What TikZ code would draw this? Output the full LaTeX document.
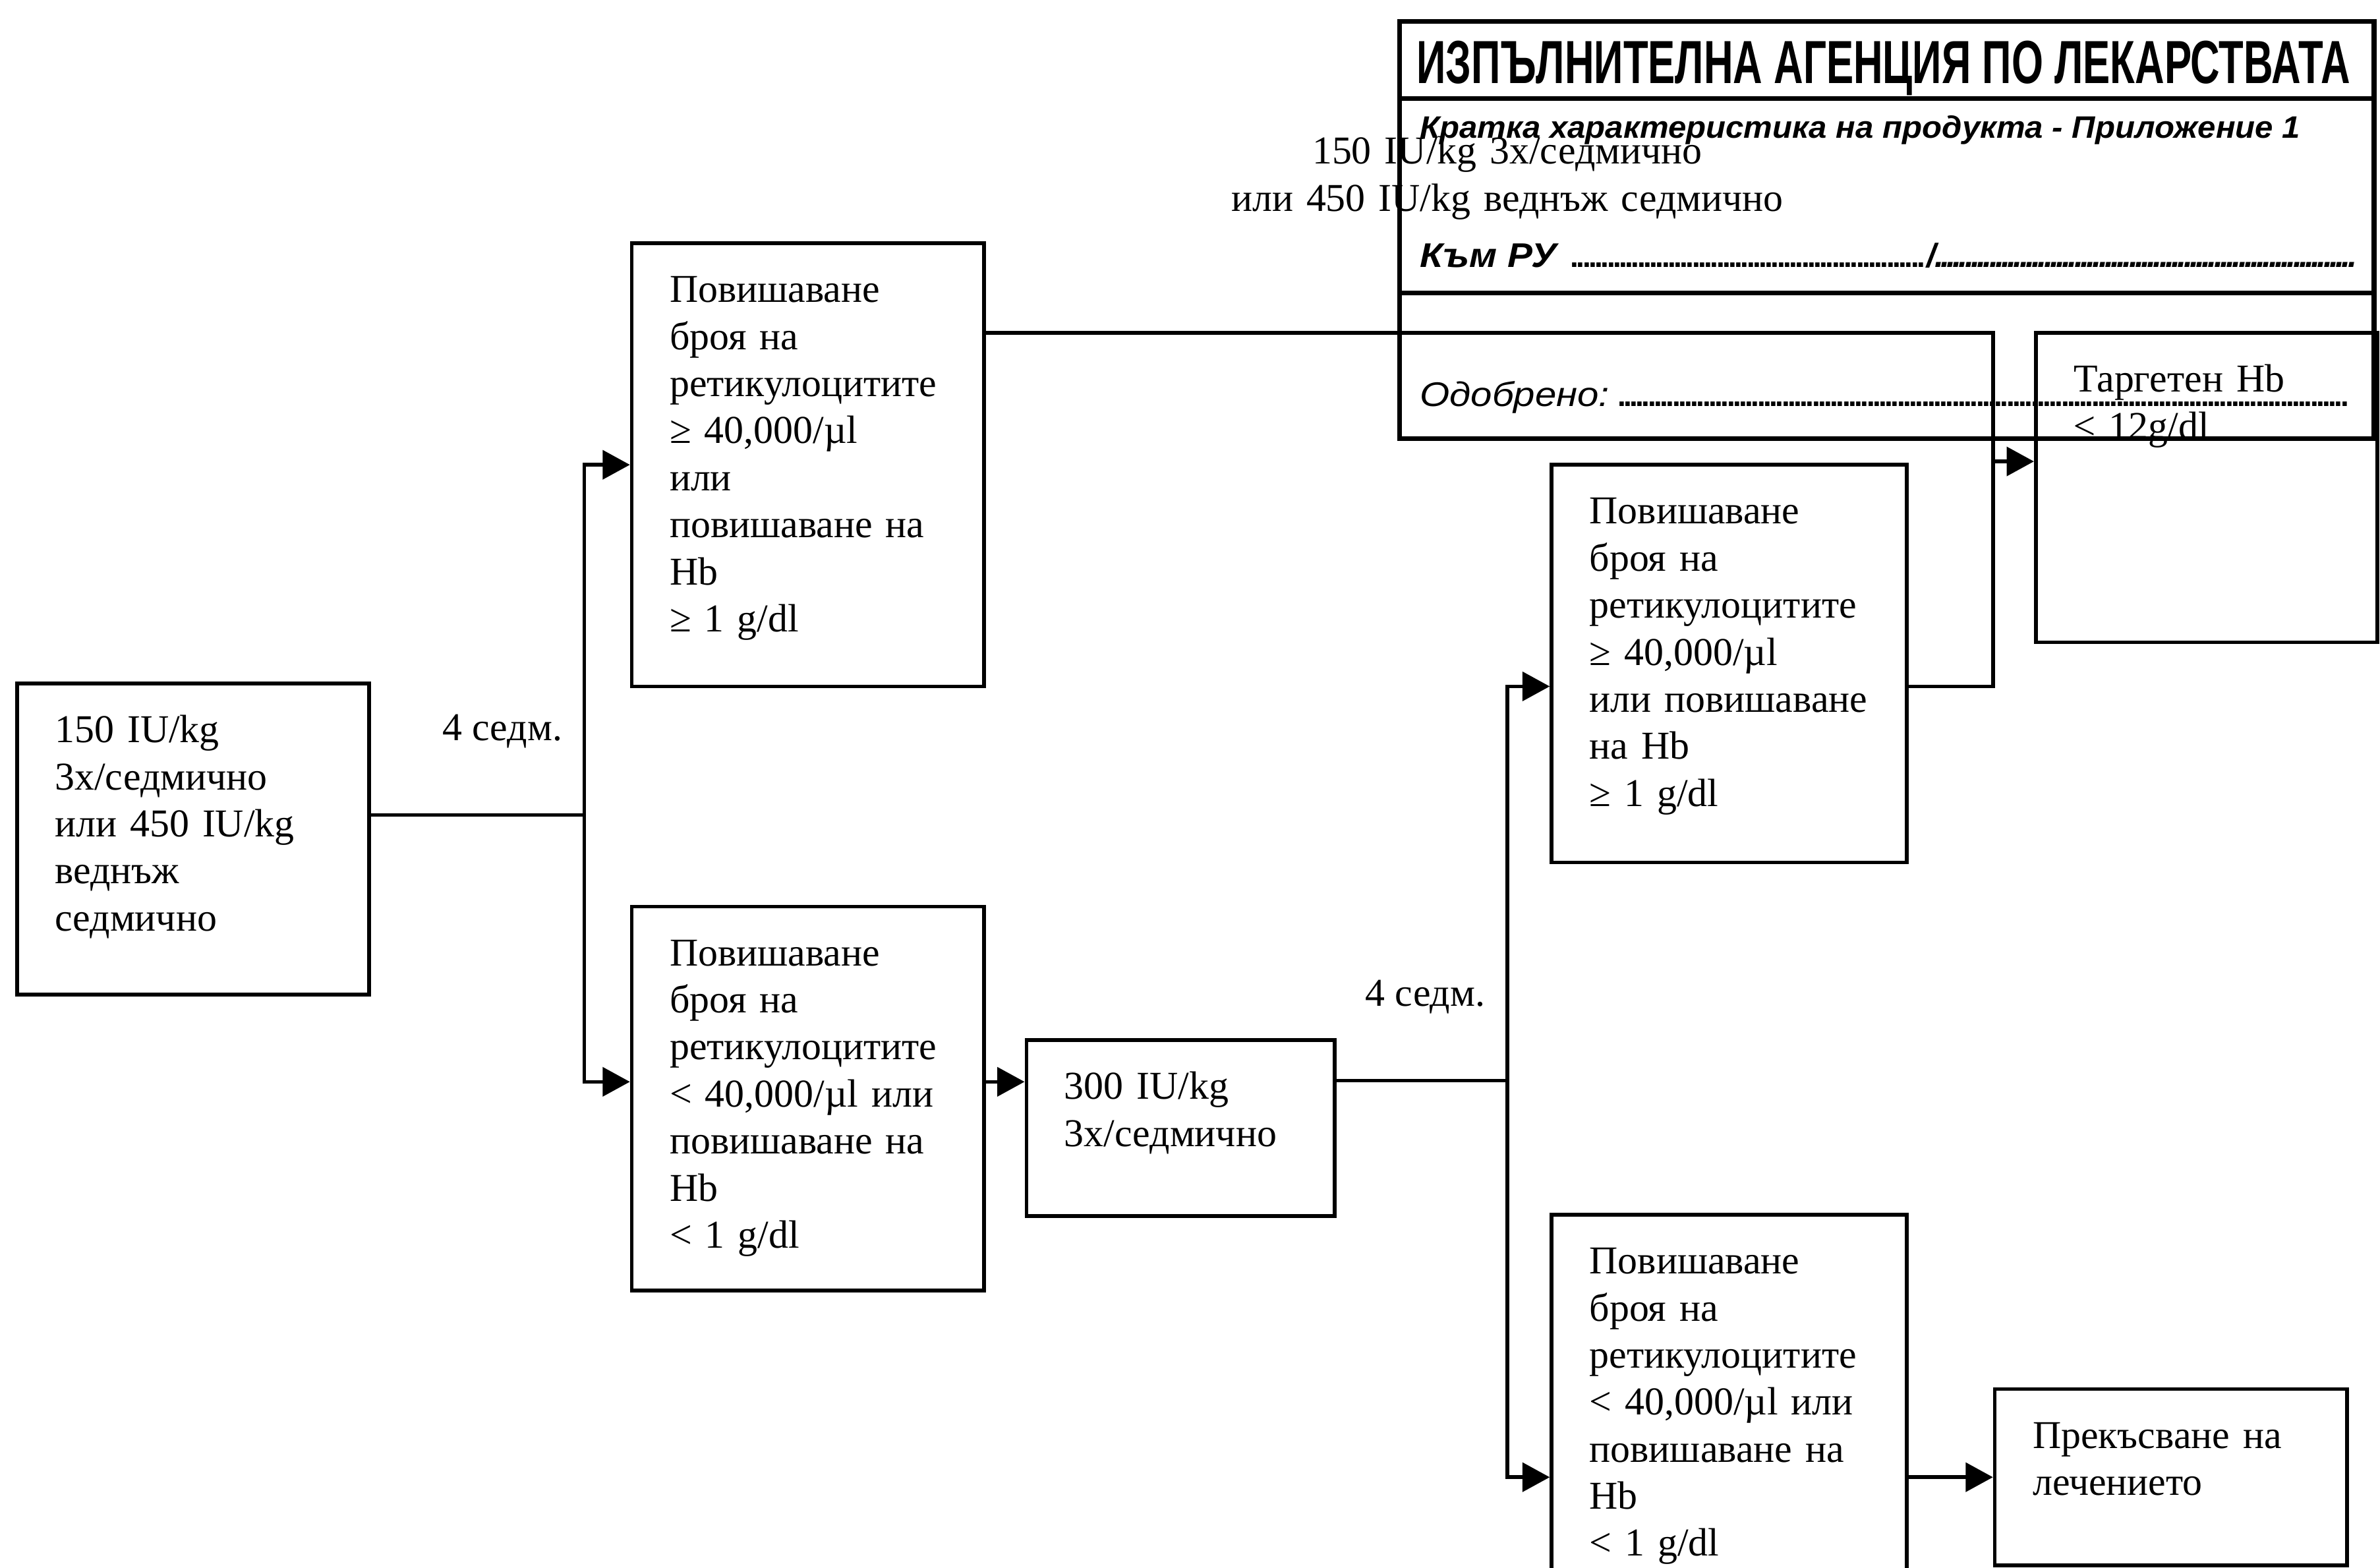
\documentclass[tikz,border=0pt]{standalone}
\usepackage{fontspec}
\usepackage{graphicx}
\setmainfont{Liberation Serif}
\newfontfamily\stampfont{Liberation Sans}
\usetikzlibrary{arrows.meta}

\newcommand{\dotrow}[1]{\makebox[#1]{\leaders\hbox to 2pt{\hss.\hss}\hfill}}

\tikzset{
  box/.style={draw, line width=1.2pt, anchor=north west, inner xsep=12.5pt, inner ysep=0pt,
    align=left, text height=19.5pt, font=\fontsize{13}{15.5}\selectfont},
  note/.style={inner sep=0pt, font=\fontsize{13}{15.5}\selectfont},
  link/.style={line width=1.2pt},
  arrowlink/.style={line width=1.2pt, -{Triangle[length=9pt,width=9.5pt]}},
  stampline/.style={line width=1.6pt},
  stamptext/.style={anchor=base west, inner sep=0pt, font=\stampfont},
}

\begin{document}
\begin{tikzpicture}[x=0.5pt,y=-0.5pt]
  \useasboundingbox (0,0) rectangle (1568,1033);

  \begin{scope}[every node/.style={box}]
    \node[text width=91pt, text depth=83pt] (start) at (10,449)
      {150 IU/kg\\3x/седмично\\или 450 IU/kg\\веднъж\\седмично};
    \node[text width=91pt, text depth=126.5pt] (upA) at (415,159)
      {Повишаване\\броя на\\ретикулоцитите\\≥ 40,000/µl\\или\\повишаване на\\Hb\\≥ 1 g/dl};
    \node[text width=91pt, text depth=107pt] (lowA) at (415,596)
      {Повишаване\\броя на\\ретикулоцитите\\< 40,000/µl или\\повишаване на\\Hb\\< 1 g/dl};
    \node[text width=76.5pt, text depth=38.5pt] (dose) at (675,684)
      {300 IU/kg\\3x/седмично};
    \node[text width=92pt, text depth=111.5pt] (upB) at (1021,305)
      {Повишаване\\броя на\\ретикулоцитите\\≥ 40,000/µl\\или повишаване\\на Hb\\≥ 1 g/dl};
    \node[text width=92pt, text depth=103.5pt] (lowB) at (1021,799)
      {Повишаване\\броя на\\ретикулоцитите\\< 40,000/µl или\\повишаване на\\Hb\\< 1 g/dl};
    \node[text width=91pt, text depth=38.5pt] (stop) at (1313,914)
      {Прекъсване на\\лечението};
    \node[text width=87.5pt, text depth=82.5pt] (target) at (1340,218)
      {Таргетен Hb\\≤ 12g/dl};
  \end{scope}

  \begin{scope}[every node/.style={note}]
    \node[anchor=base] (weeksA) at (331,488) {4 седм.};
    \node[anchor=base] (weeksB) at (939,663) {4 седм.};
    \node[anchor=base, text width=200pt, align=center] (dosenote) at (993,108)
      {150 IU/kg 3x/седмично\\или 450 IU/kg веднъж седмично};
  \end{scope}

  \coordinate (j1) at (385,537);
  \coordinate (j2) at (993,712);
  \coordinate (j3) at (1313,304);

  \draw[link] (start.east |- j1) -- (j1);
  \draw[arrowlink] (j1) |- (upA.west);
  \draw[arrowlink] (j1) |- ([yshift=5.5pt]lowA.west);
  \draw[arrowlink] ([yshift=5.5pt]lowA.east) -- ([yshift=5.5pt]lowA.east -| dose.west);
  \draw[link] (dose.east |- j2) -- (j2);
  \draw[arrowlink] (j2) |- ([yshift=-7.5pt]upB.west);
  \draw[arrowlink] (j2) |- (lowB.west |- stop.west);
  \draw[arrowlink] (lowB.east |- stop.west) -- (stop.west);
  \draw[link] ([yshift=43.5pt]upA.east) -| (j3);
  \draw[link] ([yshift=-7.5pt]upB.east) -| (j3);
  \draw[arrowlink] (j3) -- (j3 -| target.west);

  \draw[stampline] (922,14) rectangle (1564,289);
  \draw[stampline] (922,65) -- (1564,65);
  \draw[stampline] (922,193) -- (1564,193);
  \node[stamptext] (agency) at (933,55)
    {\resizebox{307.5pt}{14pt}{\bfseries ИЗПЪЛНИТЕЛНА АГЕНЦИЯ ПО ЛЕКАРСТВАТА}};
  \node[stamptext] (summary) at (935,91)
    {\resizebox{290pt}{7.4pt}{\bfseries\itshape Кратка характеристика на продукта - Приложение 1}};
  \node[stamptext] (ruline) at (935,176)
    {\resizebox{45pt}{7.75pt}{\bfseries\itshape Към РУ}\hspace{5pt}{\bfseries\dotrow{117pt}\fontsize{11}{13}\selectfont\itshape/\dotrow{138pt}}};
  \node[stamptext] (approved) at (935,267.5)
    {\resizebox{62.5pt}{8.25pt}{\itshape Одобрено:}\hspace{3pt}{\bfseries\dotrow{240pt}}};
\end{tikzpicture}
\end{document}
